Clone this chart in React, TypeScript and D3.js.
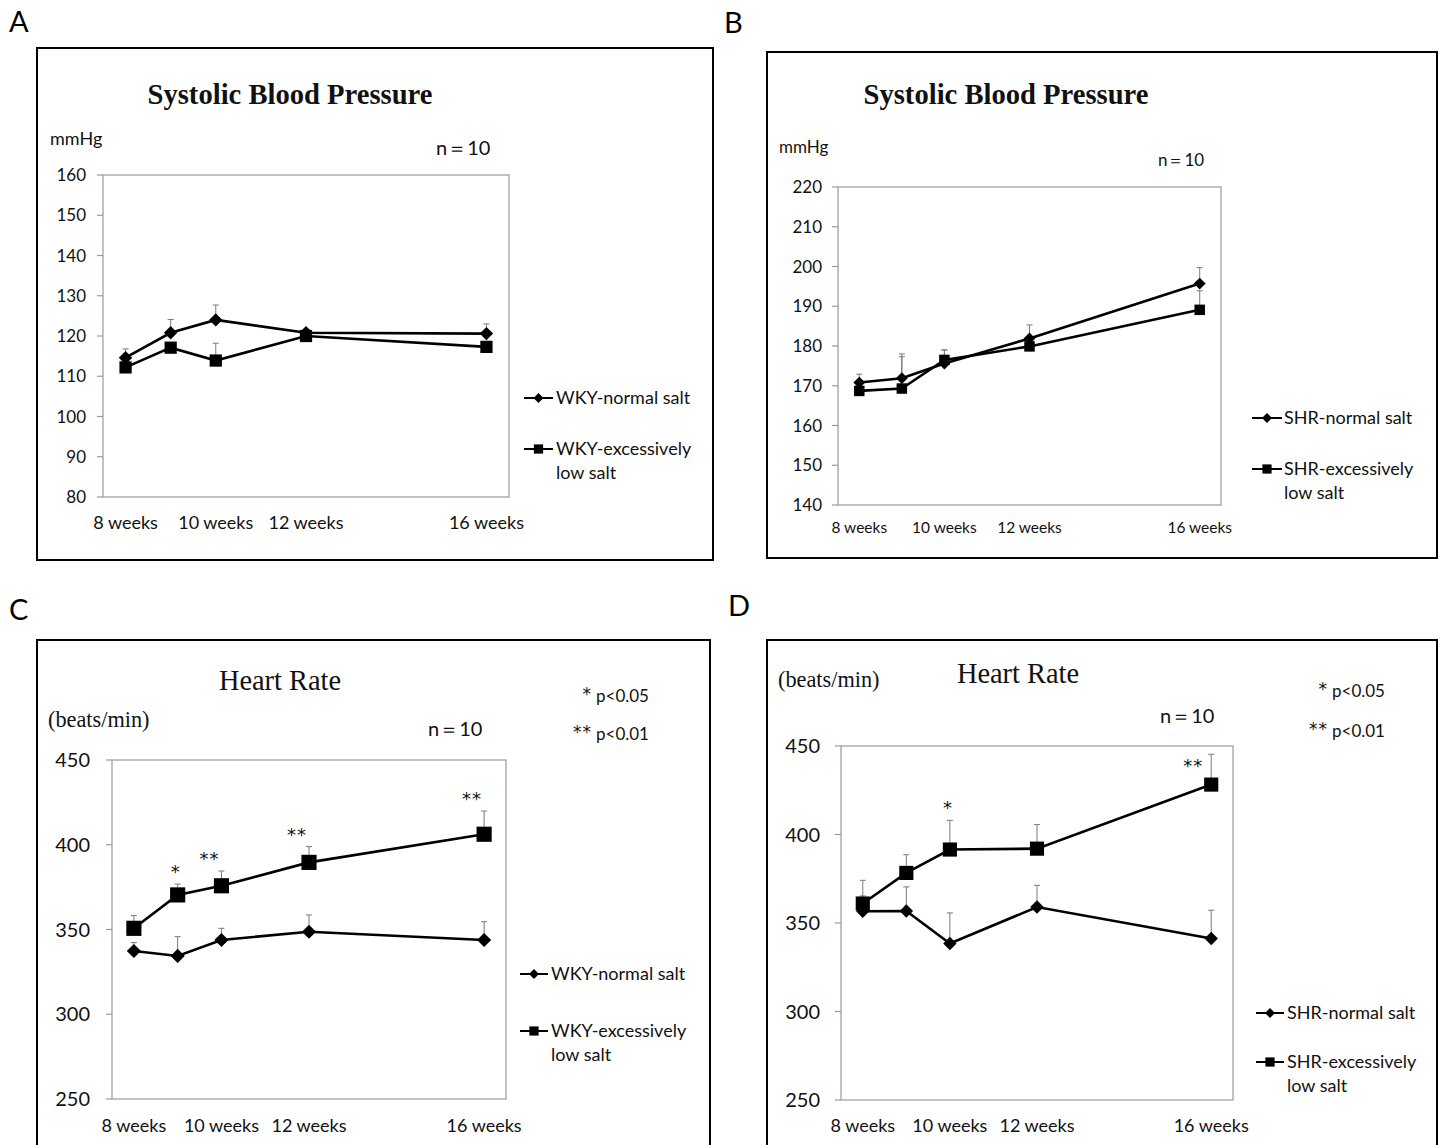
import React from "react";
import * as d3 from "d3";

// ---------- DATA ----------
const weeks = [8, 9, 10, 12, 16];
const xTickWeeks = [8, 10, 12, 16];
const xTickLabels = ["8 weeks", "10 weeks", "12 weeks", "16 weeks"];

// Panel A: WKY systolic blood pressure (mmHg)
const sbpWkyNormal = [114.6, 120.8, 124.0, 120.8, 120.6];
const sbpWkyNormalErr = [2.2, 3.3, 3.7, 0.8, 2.4];
const sbpWkyLow = [112.2, 117.1, 113.9, 120.0, 117.3];
const sbpWkyLowErr = [1.0, 1.0, 4.3, 0.8, 0.8];

// Panel B: SHR systolic blood pressure (mmHg)
const sbpShrNormal = [170.8, 171.9, 175.6, 181.9, 195.7];
const sbpShrNormalErr = [2.1, 6.1, 3.4, 3.4, 4.0];
const sbpShrLow = [168.7, 169.3, 176.5, 179.9, 189.1];
const sbpShrLowErr = [1.0, 8.0, 2.5, 1.5, 4.8];

// Panel C: WKY heart rate (beats/min)
const hrWkyNormal = [337.3, 334.4, 343.8, 348.7, 343.8];
const hrWkyNormalErr = [5.0, 11.4, 6.9, 9.9, 10.8];
const hrWkyLow = [350.7, 370.4, 375.8, 389.6, 406.2];
const hrWkyLowErr = [7.5, 6.4, 8.7, 9.3, 13.7];

// Panel D: SHR heart rate (beats/min)
const hrShrNormal = [356.6, 356.8, 338.4, 359.0, 341.2];
const hrShrNormalErr = [8.7, 13.6, 17.3, 12.3, 16.0];
const hrShrLow = [361.0, 378.3, 391.5, 392.0, 428.2];
const hrShrLowErr = [13.1, 10.3, 16.5, 13.6, 17.1];

const starsC = [
  { week: 9, label: "*" },
  { week: 10, label: "**" },
  { week: 12, label: "**" },
  { week: 16, label: "**" },
];
const starsD = [
  { week: 10, label: "*" },
  { week: 16, label: "**" },
];

const sbpTicksA = [80, 90, 100, 110, 120, 130, 140, 150, 160];
const sbpTicksB = [140, 150, 160, 170, 180, 190, 200, 210, 220];
const hrTicks = [250, 300, 350, 400, 450];

// ---------- STYLE ----------
const SANS = "Lato, 'Open Sans', sans-serif";
const SERIF = "'Liberation Serif', 'DejaVu Serif', serif";
const STARF = "'DejaVu Sans', sans-serif";
const GRID = "#9a9a9a";

type PanelCfg = {
  letter: string;
  letterPos: [number, number];
  frame: { x: number; y: number; w: number; h: number };
  plot: { l: number; r: number; t: number; b: number };
  yDomain: [number, number];
  yTicks: number[];
  tickFont: number;
  tickGap: number;
  xLabelY: number;
  xLabelFont: number;
  normal: number[];
  normalErr: number[];
  low: number[];
  lowErr: number[];
  diamondArea: number;
  squareArea: number;
  legend: { x1: number; x2: number; y1: number; y2: number; tx: number; names: [string, string] };
  stars?: { week: number; label: string }[];
  texts: React.ReactNode;
};

function Panel({ c }: { c: PanelCfg }) {
  const x = d3.scaleLinear().domain([7.5, 16.5]).range([c.plot.l, c.plot.r]);
  const y = d3.scaleLinear().domain(c.yDomain).range([c.plot.b, c.plot.t]);
  const line = d3
    .line<number>()
    .x((_, i) => x(weeks[i]))
    .y((d) => y(d));
  const diamond = d3.symbol().type(d3.symbolSquare).size(c.diamondArea)();
  const square = d3.symbol().type(d3.symbolSquare).size(c.squareArea)();
  const legDiamond = d3.symbol().type(d3.symbolSquare).size(50)();
  const legSquare = d3.symbol().type(d3.symbolSquare).size(85)();

  const errBars = (vals: number[], errs: number[], key: string) =>
    vals.map((v, i) => {
      const px = x(weeks[i]);
      const top = y(v + errs[i]);
      return (
        <g key={key + i} stroke="#7a7a7a" strokeWidth={1}>
          <line x1={px} x2={px} y1={y(v)} y2={top} />
          <line x1={px - 3} x2={px + 3} y1={top} y2={top} />
        </g>
      );
    });

  return (
    <g>
      <text x={c.letterPos[0]} y={c.letterPos[1]} fontFamily={SANS} fontSize={29} fill="#000">
        {c.letter}
      </text>
      <rect x={c.frame.x} y={c.frame.y} width={c.frame.w} height={c.frame.h} fill="#fff" stroke="#000" strokeWidth={2} />
      {/* plot frame */}
      <rect
        x={c.plot.l}
        y={c.plot.t}
        width={c.plot.r - c.plot.l}
        height={c.plot.b - c.plot.t}
        fill="none"
        stroke={GRID}
        strokeWidth={1.2}
      />
      {/* y ticks */}
      {c.yTicks.map((t) => (
        <g key={"yt" + t}>
          <line x1={c.plot.l - 6} x2={c.plot.l} y1={y(t)} y2={y(t)} stroke={GRID} strokeWidth={1.2} />
          <text
            x={c.plot.l - c.tickGap}
            y={y(t)}
            dy="0.36em"
            textAnchor="end"
            fontFamily={SANS}
            fontSize={c.tickFont}
            fill="#111"
          >
            {t}
          </text>
        </g>
      ))}
      {/* x labels */}
      {xTickWeeks.map((w, i) => (
        <text
          key={"xt" + w}
          x={x(w)}
          y={c.xLabelY}
          textAnchor="middle"
          fontFamily={SANS}
          fontSize={c.xLabelFont}
          fill="#111"
        >
          {xTickLabels[i]}
        </text>
      ))}
      {/* error bars */}
      {errBars(c.normal, c.normalErr, "ne")}
      {errBars(c.low, c.lowErr, "le")}
      {/* lines */}
      <path d={line(c.normal) || ""} fill="none" stroke="#000" strokeWidth={2.6} />
      <path d={line(c.low) || ""} fill="none" stroke="#000" strokeWidth={2.6} />
      {/* markers */}
      {c.normal.map((v, i) => (
        <path key={"nd" + i} d={diamond || ""} transform={`translate(${x(weeks[i])},${y(v)}) rotate(45)`} fill="#000" />
      ))}
      {c.low.map((v, i) => (
        <path key={"ls" + i} d={square || ""} transform={`translate(${x(weeks[i])},${y(v)})`} fill="#000" />
      ))}
      {/* stars */}
      {(c.stars || []).map((s, i) => {
        const idx = weeks.indexOf(s.week);
        let cy = y(c.low[idx] + c.lowErr[idx]) - 16;
        let sx = x(s.week) - (s.label.length - 1) * 10 - 2;
        if (cy < c.plot.t + 16) {
          cy = c.plot.t + 16;
          sx -= 6;
        }
        return (
          <text
            key={"st" + i}
            x={sx}
            y={cy + 10}
            textAnchor="middle"
            fontFamily={STARF}
            fontSize={18}
            letterSpacing={1}
            fill="#111"
          >
            {s.label}
          </text>
        );
      })}
      {/* legend */}
      <g>
        <line x1={c.legend.x1} x2={c.legend.x2} y1={c.legend.y1} y2={c.legend.y1} stroke="#000" strokeWidth={2} />
        <path
          d={legDiamond || ""}
          transform={`translate(${(c.legend.x1 + c.legend.x2) / 2},${c.legend.y1}) rotate(45)`}
          fill="#000"
        />
        <text x={c.legend.tx} y={c.legend.y1} dy="0.36em" fontFamily={SANS} fontSize={18} fill="#111">
          {c.legend.names[0]}
        </text>
        <line x1={c.legend.x1} x2={c.legend.x2} y1={c.legend.y2} y2={c.legend.y2} stroke="#000" strokeWidth={2} />
        <path d={legSquare || ""} transform={`translate(${(c.legend.x1 + c.legend.x2) / 2},${c.legend.y2})`} fill="#000" />
        <text x={c.legend.tx} y={c.legend.y2} dy="0.36em" fontFamily={SANS} fontSize={18} fill="#111">
          {c.legend.names[1]}
        </text>
        <text x={c.legend.tx} y={c.legend.y2 + 24} dy="0.36em" fontFamily={SANS} fontSize={18} fill="#111">
          low salt
        </text>
      </g>
      {c.texts}
    </g>
  );
}

const panels: PanelCfg[] = [
  {
    letter: "A",
    letterPos: [9, 32],
    frame: { x: 37, y: 48, w: 676, h: 512 },
    plot: { l: 103, r: 509, t: 175, b: 497 },
    yDomain: [80, 160],
    yTicks: sbpTicksA,
    tickFont: 17,
    tickGap: 17,
    xLabelY: 529,
    xLabelFont: 18,
    normal: sbpWkyNormal,
    normalErr: sbpWkyNormalErr,
    low: sbpWkyLow,
    lowErr: sbpWkyLowErr,
    diamondArea: 90,
    squareArea: 150,
    legend: { x1: 524, x2: 553, y1: 398, y2: 449, tx: 556, names: ["WKY-normal salt", "WKY-excessively"] },
    texts: (
      <g>
        <text x={290} y={104} textAnchor="middle" fontFamily={SERIF} fontWeight="bold" fontSize={28.6} fill="#111">
          Systolic Blood Pressure
        </text>
        <text x={50} y={145} fontFamily={SANS} fontSize={18} fill="#111">mmHg</text>
        <text x={436} y={155} fontFamily={SANS} fontSize={20} fill="#111">n＝10</text>
      </g>
    ),
  },
  {
    letter: "B",
    letterPos: [724, 33],
    frame: { x: 767, y: 52, w: 670, h: 506 },
    plot: { l: 838, r: 1221, t: 187, b: 505 },
    yDomain: [140, 220],
    yTicks: sbpTicksB,
    tickFont: 17,
    tickGap: 16,
    xLabelY: 533,
    xLabelFont: 15.5,
    normal: sbpShrNormal,
    normalErr: sbpShrNormalErr,
    low: sbpShrLow,
    lowErr: sbpShrLowErr,
    diamondArea: 70,
    squareArea: 110,
    legend: { x1: 1252, x2: 1282, y1: 418, y2: 469, tx: 1284, names: ["SHR-normal salt", "SHR-excessively"] },
    texts: (
      <g>
        <text x={1006} y={104} textAnchor="middle" fontFamily={SERIF} fontWeight="bold" fontSize={28.6} fill="#111">
          Systolic Blood Pressure
        </text>
        <text x={779} y={153} fontFamily={SANS} fontSize={17} fill="#111">mmHg</text>
        <text x={1158} y={166} fontFamily={SANS} fontSize={17} fill="#111">n＝10</text>
      </g>
    ),
  },
  {
    letter: "C",
    letterPos: [9, 620],
    frame: { x: 37, y: 640, w: 673, h: 530 },
    plot: { l: 112, r: 506, t: 760, b: 1099 },
    yDomain: [250, 450],
    yTicks: hrTicks,
    tickFont: 20,
    tickGap: 22,
    xLabelY: 1132,
    xLabelFont: 18,
    normal: hrWkyNormal,
    normalErr: hrWkyNormalErr,
    low: hrWkyLow,
    lowErr: hrWkyLowErr,
    diamondArea: 100,
    squareArea: 230,
    legend: { x1: 520, x2: 548, y1: 974, y2: 1031, tx: 551, names: ["WKY-normal salt", "WKY-excessively"] },
    stars: starsC,
    texts: (
      <g>
        <text x={280} y={690} textAnchor="middle" fontFamily={SERIF} fontSize={28.4} fill="#111">Heart Rate</text>
        <text x={48} y={727} fontFamily={SERIF} fontSize={22.3} fill="#111">(beats/min)</text>
        <text x={428} y={736} fontFamily={SANS} fontSize={20} fill="#111">n＝10</text>
        <text x={591} y={700} textAnchor="end" fontFamily={STARF} fontSize={17} fill="#111">*</text>
        <text x={596} y={702} fontFamily={SANS} fontSize={17} fill="#111">p&lt;0.05</text>
        <text x={592} y={738} textAnchor="end" fontFamily={STARF} fontSize={17} letterSpacing={1} fill="#111">**</text>
        <text x={596} y={740} fontFamily={SANS} fontSize={17} fill="#111">p&lt;0.01</text>
      </g>
    ),
  },
  {
    letter: "D",
    letterPos: [728, 616],
    frame: { x: 767, y: 640, w: 670, h: 530 },
    plot: { l: 841, r: 1233, t: 746, b: 1100 },
    yDomain: [250, 450],
    yTicks: hrTicks,
    tickFont: 20,
    tickGap: 21,
    xLabelY: 1132,
    xLabelFont: 18,
    normal: hrShrNormal,
    normalErr: hrShrNormalErr,
    low: hrShrLow,
    lowErr: hrShrLowErr,
    diamondArea: 90,
    squareArea: 200,
    legend: { x1: 1256, x2: 1284, y1: 1013, y2: 1062, tx: 1287, names: ["SHR-normal salt", "SHR-excessively"] },
    stars: starsD,
    texts: (
      <g>
        <text x={1018} y={683} textAnchor="middle" fontFamily={SERIF} fontSize={28.4} fill="#111">Heart Rate</text>
        <text x={778} y={687} fontFamily={SERIF} fontSize={22.3} fill="#111">(beats/min)</text>
        <text x={1160} y={723} fontFamily={SANS} fontSize={20} fill="#111">n＝10</text>
        <text x={1327} y={695} textAnchor="end" fontFamily={STARF} fontSize={17} fill="#111">*</text>
        <text x={1332} y={697} fontFamily={SANS} fontSize={17} fill="#111">p&lt;0.05</text>
        <text x={1328} y={735} textAnchor="end" fontFamily={STARF} fontSize={17} letterSpacing={1} fill="#111">**</text>
        <text x={1332} y={737} fontFamily={SANS} fontSize={17} fill="#111">p&lt;0.01</text>
      </g>
    ),
  },
];

export default function App() {
  return (
    <svg
      width={1442}
      height={1145}
      viewBox="0 0 1442 1145"
      style={{ position: "absolute", left: 0, top: 0, background: "#fff" }}
    >
      <rect x={0} y={0} width={1442} height={1145} fill="#fff" />
      {panels.map((p) => (
        <Panel key={p.letter} c={p} />
      ))}
    </svg>
  );
}
